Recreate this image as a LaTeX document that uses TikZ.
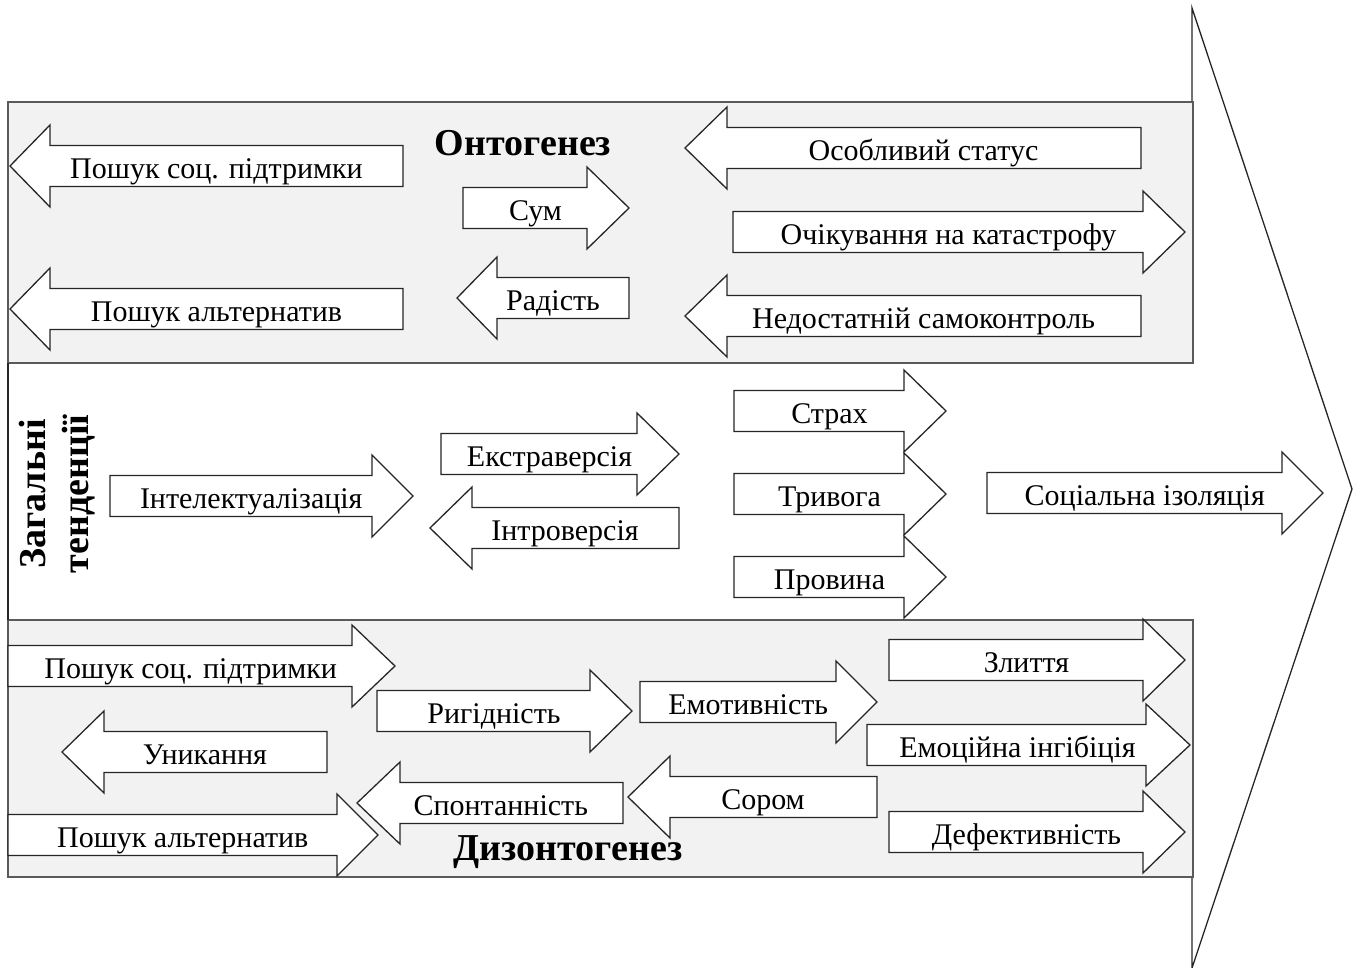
\documentclass[tikz,border=0pt]{standalone}
\usepackage{fontspec}
\setmainfont{Liberation Serif}
\definecolor{boxgray}{RGB}{242,242,242}
\definecolor{edgegray}{RGB}{90,90,90}
\newcommand\blockarrow[6]{%
  \draw[arr] (#2,#5-20.5) -- (#3,#5-20.5) -- (#3,#5-41) -- (#4,#5) -- (#3,#5+41) -- (#3,#5+20.5) -- (#2,#5+20.5) -- cycle;
  \node[lbl] (#1) at ({(2*#2+#3+#4)/4},#5) {#6};}
\begin{document}
\begin{tikzpicture}[x=1pt,y=-1pt,
  arr/.style={draw=black!85,fill=white,line width=1.3pt,line join=miter},
  lbl/.style={font=\fontsize{30}{33}\selectfont,inner sep=0pt,text height=25pt,text depth=0pt},
  ttl/.style={font=\fontsize{38}{43}\selectfont\bfseries,inner sep=0pt},
  band/.style={draw=edgegray,fill=boxgray,line width=1.8pt}]
\useasboundingbox (0,0) rectangle (1358,968);
% big arrow outline
\draw[black!85,line width=1.3pt,fill=white] (8,102) -- (1192,102) -- (1192,8) -- (1352,489) -- (1192,968) -- (1192,877) -- (8,877) -- cycle;
% bands
\draw[band] (8,102) rectangle (1193,363);
\draw[band] (8,620) rectangle (1193,877);
\draw[black!85,line width=1.3pt] (8,363) -- (8,620);
% upper band
\blockarrow{u1}{403}{50}{10}{166}{Пошук соц. підтримки}
\blockarrow{u2}{403}{50}{10}{309}{Пошук альтернатив}
\blockarrow{u3}{463}{587}{629}{208}{Сум}
\blockarrow{u4}{629}{497}{457}{298}{Радість}
\blockarrow{u5}{1141}{727}{685}{148}{Особливий статус}
\blockarrow{u6}{733}{1143}{1185}{232}{Очікування на катастрофу}
\blockarrow{u7}{1141}{727}{685}{316}{Недостатній самоконтроль}
\node[ttl] (onto) at (523,143) {Онтогенез};
% middle band
\node[ttl,rotate=90,align=center] (zag) at (57,494) {Загальні\\тенденції};
\blockarrow{m1}{110}{372}{413}{496}{Інтелектуалізація}
\blockarrow{m2}{441}{637}{679}{454}{Екстраверсія}
\blockarrow{m3}{679}{472}{430}{528}{Інтроверсія}
\blockarrow{m4}{734}{904}{946}{411}{Страх}
\blockarrow{m5}{734}{904}{946}{494}{Тривога}
\blockarrow{m6}{734}{904}{946}{577}{Провина}
\blockarrow{m7}{987}{1282}{1323}{493}{Соціальна ізоляція}
% lower band
\blockarrow{l1}{8}{352}{395}{666}{Пошук соц. підтримки}
\blockarrow{l2}{377}{590}{632}{711}{Ригідність}
\blockarrow{l3}{640}{836}{877}{702}{Емотивність}
\blockarrow{l4}{889}{1143}{1185}{660}{Злиття}
\blockarrow{l5}{867}{1146}{1190}{745}{Емоційна інгібіція}
\blockarrow{l6}{889}{1143}{1185}{832}{Дефективність}
\blockarrow{l7}{327}{104}{62}{752}{Уникання}
\blockarrow{l8}{877}{670}{628}{797}{Сором}
\blockarrow{l9}{623}{400}{357}{803}{Спонтанність}
\blockarrow{l10}{8}{337}{378}{835}{Пошук альтернатив}
\node[ttl] (dizo) at (568,852) {Дизонтогенез};
\end{tikzpicture}
\end{document}
